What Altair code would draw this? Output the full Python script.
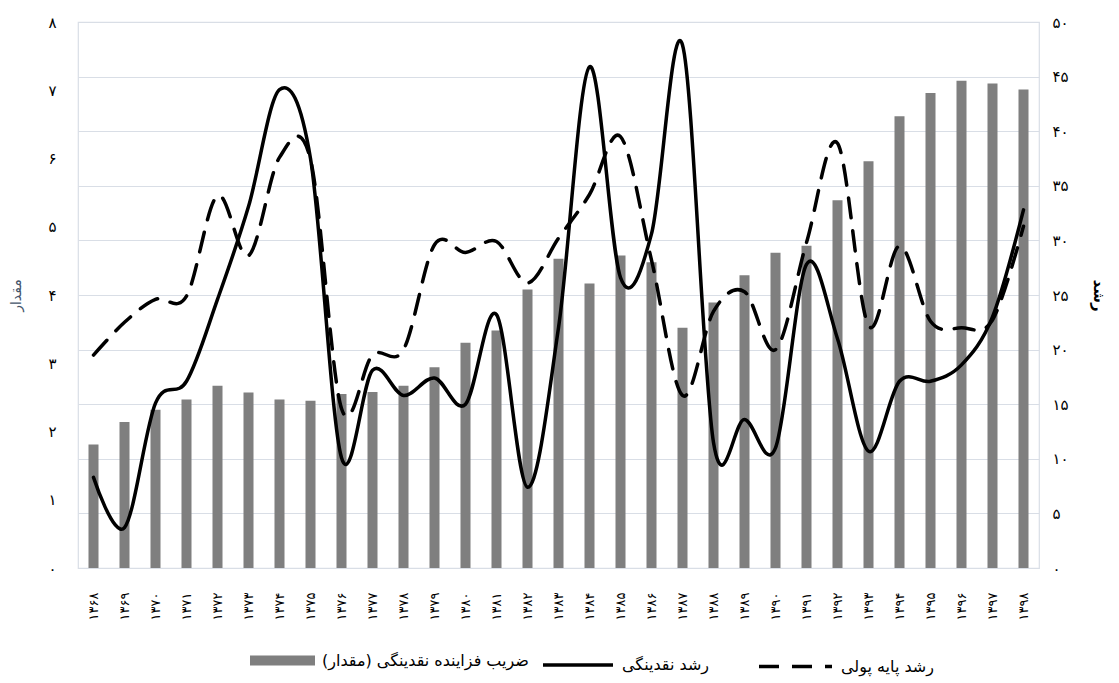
import json
import altair as alt
import pandas as pd

# Solar (Hijri) years shown on the x axis
years = ['۱۳۶۸', '۱۳۶۹', '۱۳۷۰', '۱۳۷۱', '۱۳۷۲', '۱۳۷۳', '۱۳۷۴', '۱۳۷۵',
         '۱۳۷۶', '۱۳۷۷', '۱۳۷۸', '۱۳۷۹', '۱۳۸۰', '۱۳۸۱', '۱۳۸۲', '۱۳۸۳',
         '۱۳۸۴', '۱۳۸۵', '۱۳۸۶', '۱۳۸۷', '۱۳۸۸', '۱۳۸۹', '۱۳۹۰', '۱۳۹۱',
         '۱۳۹۲', '۱۳۹۳', '۱۳۹۴', '۱۳۹۵', '۱۳۹۶', '۱۳۹۷', '۱۳۹۸']

# Money multiplier (left axis)
multiplier = [1.81, 2.14, 2.32, 2.47, 2.67, 2.57, 2.47, 2.45, 2.55, 2.58,
              2.67, 2.94, 3.30, 3.48, 4.08, 4.53, 4.17, 4.58, 4.48, 3.52,
              3.89, 4.29, 4.62, 4.72, 5.39, 5.96, 6.62, 6.96, 7.14, 7.10, 7.01]

# Liquidity growth, % (right axis)
liquidity_growth = [8.3, 3.7, 15.1, 17.1, 24.6, 33.1, 43.8, 37.5, 10.1, 18.1,
                    15.8, 17.4, 15.0, 23.2, 7.4, 22.0, 45.9, 26.6, 30.6, 47.9,
                    11.5, 13.6, 11.0, 27.8, 21.0, 10.7, 17.1, 17.1, 18.6, 23.0, 32.8]

# Monetary base growth, % (right axis)
base_growth = [19.5, 22.5, 24.6, 24.9, 34.1, 28.6, 37.6, 37.4, 14.6, 19.5,
               20.0, 29.6, 28.9, 29.9, 26.1, 30.2, 34.2, 39.5, 28.2, 15.8,
               23.5, 25.3, 20.0, 29.8, 38.9, 22.2, 29.5, 22.6, 22.0, 22.7, 31.3]

left_tick_labels = ['۰', '۱', '۲', '۳', '۴', '۵', '۶', '۷', '۸']
right_tick_labels = ['۰', '۵', '۱۰', '۱۵', '۲۰', '۲۵', '۳۰', '۳۵', '۴۰', '۴۵', '۵۰']

RLM = '\u200f'
name_mult = 'ضریب فزاینده نقدینگی (مقدار)' + RLM
name_liq = 'رشد نقدینگی'
name_base = 'رشد پایه پولی'

df = pd.DataFrame({
    'year': years,
    'multiplier': multiplier,
    'liquidity': liquidity_growth,
    'base': base_growth,
})

FONT = 'DejaVu Sans'
GRID = '#D9DEE6'

x_enc = alt.X(
    'year:O', sort=years, title=None,
    scale=alt.Scale(paddingInner=0, paddingOuter=0),
    axis=alt.Axis(labelAngle=270, labelPadding=24, ticks=False,
                  domainColor=GRID, labelFont=FONT, labelFontSize=13,
                  labelColor='#000000'),
)

left_axis = alt.Axis(
    orient='left', tickCount=8, grid=False, ticks=False, domain=False,
    labelExpr=json.dumps(left_tick_labels, ensure_ascii=False) + '[datum.value]',
    labelPadding=22, labelFont=FONT, labelFontSize=15, labelColor='#000000',
    title='مقدار', titleFont=FONT, titleFontSize=14, titleFontWeight='normal',
    titleColor='#44546A', titlePadding=24,
)

right_axis = alt.Axis(
    orient='right', tickCount=10, grid=True, gridColor=GRID, gridWidth=1.2,
    ticks=False, domain=False,
    labelExpr=json.dumps(right_tick_labels, ensure_ascii=False) + '[datum.value/5]',
    labelPadding=13, labelFont=FONT, labelFontSize=15, labelColor='#000000',
    title='رشد', titleFont=FONT, titleFontSize=15, titleFontWeight='bold',
    titleColor='#000000', titlePadding=22,
)

legend_common = dict(title=None, padding=0, labelFont=FONT, labelFontSize=16,
                     labelColor='#000000', labelOffset=7, labelLimit=500,
                     orient='none')

bars = alt.Chart(df).transform_calculate(
    series=f'"{name_mult}"'
).mark_bar(size=10, color='#7F7F7F').encode(
    x=x_enc,
    y=alt.Y('multiplier:Q', scale=alt.Scale(domain=[0, 8], nice=False), axis=left_axis),
    color=alt.Color('series:N', scale=alt.Scale(domain=[name_mult], range=['#7F7F7F']),
                    legend=alt.Legend(symbolType='M-1,-0.154L1,-0.154L1,0.154L-1,0.154Z',
                                      symbolSize=4225, symbolStrokeWidth=0,
                                      legendX=172, legendY=606, **legend_common)),
)

line_liq = alt.Chart(df).transform_calculate(
    series=f'"{name_liq}"'
).mark_line(interpolate='cardinal', strokeWidth=3.5, strokeCap='round').encode(
    x=x_enc,
    y=alt.Y('liquidity:Q', scale=alt.Scale(domain=[0, 50], nice=False), axis=right_axis),
    color=alt.Color('series:N', scale=alt.Scale(domain=[name_liq], range=['#000000']),
                    legend=alt.Legend(symbolType='stroke', symbolSize=4900,
                                      symbolStrokeWidth=3.5,
                                      legendX=463, legendY=606, **legend_common)),
)

line_base = alt.Chart(df).transform_calculate(
    series=f'"{name_base}"'
).mark_line(interpolate='cardinal', strokeWidth=3.5, strokeDash=[20, 13],
            strokeCap='round').encode(
    x=x_enc,
    y=alt.Y('base:Q', scale=alt.Scale(domain=[0, 50], nice=False), axis=right_axis),
    color=alt.Color('series:N', scale=alt.Scale(domain=[name_base], range=['#000000']),
                    legend=alt.Legend(symbolType='stroke', symbolSize=5329,
                                      symbolStrokeWidth=3.5, symbolDash=[20, 13],
                                      legendX=679, legendY=606, **legend_common)),
)

lines = alt.layer(line_liq, line_base).resolve_scale(color='independent')

chart = alt.layer(bars, lines).resolve_scale(
    y='independent', color='independent'
).properties(
    width=961, height=546,
    autosize=alt.AutoSizeParams(type='none'),
    padding={'left': 78, 'top': 22, 'right': 80, 'bottom': 115},
    background='#FFFFFF',
).configure_view(stroke=GRID, strokeWidth=1.2)

chart.save('out.html', embed_options={'renderer': 'svg', 'actions': False})
